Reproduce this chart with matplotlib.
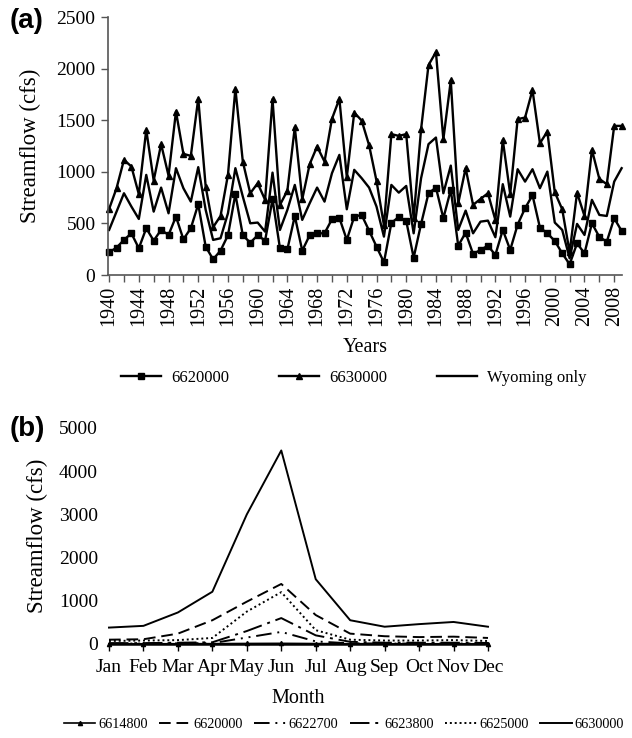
import matplotlib
matplotlib.use("Agg")
import matplotlib.pyplot as plt
import numpy as np

plt.rcParams['font.family'] = ['Liberation Serif', 'DejaVu Serif']

# ---------------- Panel (a) data ----------------
years = list(range(1940, 2010))
s6620000 = [220, 265, 340, 404, 259, 453, 333, 437, 388, 566,
            346, 453, 686, 275, 152, 236, 385, 783, 385, 313,
            385, 333, 734, 259, 249, 572, 236, 385, 404, 404,
            540, 553, 340, 566, 582, 430, 275, 123, 504, 563,
            524, 168, 495, 792, 847, 550, 825, 284, 410, 204,
            243, 284, 194, 437, 243, 488, 647, 773, 459, 404,
            330, 210, 104, 307, 210, 501, 369, 323, 550, 427]
s6630000 = [640, 841, 1116, 1051, 783, 1407, 915, 1268, 963, 1584,
            1174, 1154, 1710, 857, 463, 572, 970, 1807, 1099, 792,
            889, 728, 1704, 679, 818, 1433, 734, 1074, 1245, 1099,
            1513, 1707, 948, 1574, 1497, 1258, 912, 482, 1365, 1348,
            1365, 550, 1413, 2034, 2160, 1316, 1885, 695, 1035, 679,
            737, 792, 533, 1309, 783, 1510, 1526, 1792, 1277, 1390,
            802, 637, 220, 798, 572, 1213, 931, 880, 1445, 1445]
wyoming = [437, 614, 792, 663, 543, 970, 614, 847, 598, 1035,
           841, 711, 1045, 631, 340, 356, 598, 1035, 760, 501,
           508, 420, 992, 437, 631, 873, 534, 695, 847, 711,
           986, 1164, 637, 1019, 938, 847, 663, 372, 873, 798,
           863, 404, 938, 1268, 1332, 792, 1060, 437, 624, 404,
           517, 527, 366, 880, 566, 1025, 905, 1025, 841, 1002,
           508, 437, 162, 495, 388, 728, 582, 572, 905, 1035]
year_labels = [str(y) for y in range(1940, 2010, 4)]

# ---------------- Panel (b) data ----------------
months = ['Jan', 'Feb', 'Mar', 'Apr', 'May', 'Jun', 'Jul', 'Aug', 'Sep', 'Oct', 'Nov', 'Dec']
m6614800 = [5, 5, 6, 8, 12, 15, 10, 6, 5, 5, 5, 5]
m6620000 = [100, 110, 240, 550, 980, 1390, 670, 240, 180, 160, 170, 140]
m6622700 = [10, 10, 15, 20, 150, 280, 60, 15, 10, 10, 10, 10]
m6623800 = [20, 20, 30, 40, 300, 600, 200, 50, 30, 30, 30, 25]
m6625000 = [70, 80, 90, 140, 750, 1200, 320, 100, 80, 80, 90, 70]
m6630000 = [380, 420, 730, 1210, 3000, 4480, 1500, 550, 400, 460, 510, 400]

W, H = 632, 738
fig = plt.figure(figsize=(W / 100, H / 100), dpi=100)

def px_axes(left, top, right, bottom):
    return fig.add_axes([left / W, 1 - bottom / H, (right - left) / W, (bottom - top) / H])

# ---------------- Panel (a) ----------------
ax1 = px_axes(108, 17, 622, 275)
ax1.plot(years, s6620000, color='black', lw=1.7, marker='s', ms=5, label='6620000', clip_on=False)
ax1.plot(years, s6630000, color='black', lw=1.7, marker='^', ms=4.5, label='6630000', clip_on=False)
ax1.plot(years, wyoming, color='black', lw=1.7, label='Wyoming only', clip_on=False)
ax1.set_xlim(1939.85, 2009.05)
ax1.set_ylim(0, 2500)
ax1.set_yticks(range(0, 2501, 500))
ax1.set_xticks(range(1940, 2010, 4))
ax1.set_xticklabels(year_labels, rotation=90, fontsize=14.5)
ax1.set_xticks(range(1940, 2010, 2), minor=True)
for s in ['top', 'right']:
    ax1.spines[s].set_visible(False)
for s in ['left', 'bottom']:
    ax1.spines[s].set_color('#555555')
    ax1.spines[s].set_linewidth(1.2)
ax1.tick_params(axis='both', which='both', direction='out', length=5, width=1, color='#555555')
ax1.tick_params(axis='y', labelsize=14, pad=4)
ax1.tick_params(axis='x', pad=3)
ax1.set_xlabel('Years', fontsize=14.5, labelpad=8)
ax1.set_ylabel('Streamflow (cfs)', fontsize=16.5, labelpad=11)
h1, l1 = ax1.get_legend_handles_labels()
fig.legend(h1, l1, loc='center', bbox_to_anchor=(354 / W, 1 - 378 / H), ncol=3, frameon=False,
           fontsize=12, handlelength=2.4, columnspacing=3.0, handletextpad=0.6)
fig.text(10 / W, 1 - 21 / H, '(a)', family='Liberation Sans', fontweight='bold', fontsize=20, va='center', ha='left')

# ---------------- Panel (b) ----------------
ax2 = px_axes(109, 428, 488, 644)
x = np.arange(len(months))
ax2.plot(x, m6614800, color='black', lw=1.2, marker='^', ms=3, label='6614800', clip_on=False)
ax2.plot(x, m6620000, color='black', lw=1.4, linestyle=(0, (6, 3)), label='6620000', clip_on=False)
ax2.plot(x, m6622700, color='black', lw=1.4, linestyle=(0, (8, 3, 1, 3, 1, 3)), label='6622700', clip_on=False)
ax2.plot(x, m6623800, color='black', lw=1.4, linestyle=(0, (10, 3, 1.5, 3)), label='6623800', clip_on=False)
ax2.plot(x, m6625000, color='black', lw=1.4, linestyle=(0, (1, 1.5)), label='6625000', clip_on=False)
ax2.plot(x, m6630000, color='black', lw=1.4, label='6630000', clip_on=False)
ax2.set_xlim(0, 11)
ax2.set_ylim(0, 5000)
ax2.set_yticks(range(0, 5001, 1000))
ax2.set_xticks(x)
ax2.set_xticklabels(months)
for s in ['top', 'right']:
    ax2.spines[s].set_visible(False)
ax2.spines['left'].set_visible(False)
ax2.spines['bottom'].set_linewidth(1.8)
ax2.tick_params(axis='y', length=0, labelsize=14, pad=8)
ax2.tick_params(axis='x', direction='out', length=5, width=1, labelsize=14, pad=6)
ax2.set_xlabel('Month', fontsize=14.5, labelpad=9)
ax2.set_ylabel('Streamflow (cfs)', fontsize=16.5, labelpad=8)
h2, l2 = ax2.get_legend_handles_labels()
fig.legend(h2, l2, loc='center', bbox_to_anchor=(344 / W, 1 - 724 / H),
           ncol=6, frameon=False, fontsize=10.3, handlelength=2.2, columnspacing=0.8, handletextpad=0.2)
fig.text(10 / W, 1 - 429 / H, '(b)', family='Liberation Sans', fontweight='bold', fontsize=20, va='center', ha='left')

fig.savefig('out.png', dpi=100)
